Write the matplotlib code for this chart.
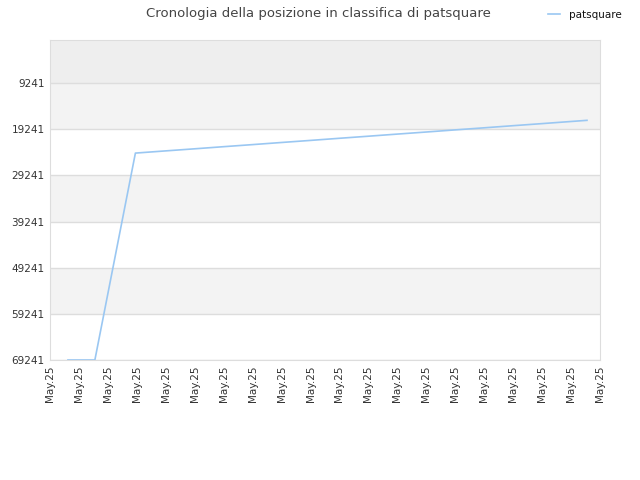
import matplotlib
matplotlib.use("Agg")
import matplotlib.pyplot as plt

# x positions in tick units (0..19), rank values
days = [0.62, 1.55, 2.95, 4.0, 5.0, 6.0, 7.0, 8.0, 9.0, 10.0, 11.0, 12.0,
        13.0, 14.0, 15.0, 16.0, 17.0, 18.0, 18.55]
ranks = [69241, 69241, 24400, 23920, 23470, 23010, 22560, 22100, 21650, 21190,
         20740, 20280, 19830, 19370, 18920, 18460, 18010, 17550, 17300]
tick_labels = ["May.25"] * 20
y_ticks = [9241, 19241, 29241, 39241, 49241, 59241, 69241]

fig = plt.figure(figsize=(6.4, 4.8), dpi=100)
ax = fig.add_axes([50 / 640, 1 - 360 / 480, 550 / 640, 320 / 480])

y_top = -110
ax.set_xlim(0, 19)
ax.set_ylim(69241, y_top)

# background bands
ax.axhspan(y_top, 9241, color="#eeeeee", zorder=0, lw=0)
for i in range(len(y_ticks) - 1):
    col = "#f3f3f3" if i % 2 == 0 else "#ffffff"
    ax.axhspan(y_ticks[i], y_ticks[i + 1], color=col, zorder=0, lw=0)
for t in y_ticks:
    ax.axhline(t, color="#dddddd", lw=1, zorder=1)

ax.plot(days, ranks, color="#9ac7f2", lw=1.2, zorder=3, label="patsquare")

ax.set_yticks(y_ticks)
ax.set_yticklabels([str(t) for t in y_ticks])
ax.set_xticks(range(20))
ax.set_xticklabels(tick_labels, rotation=90)
ax.tick_params(axis="both", labelsize=7.5, colors="#333333", length=0, pad=4)

for s in ax.spines.values():
    s.set_color("#dddddd")

fig.suptitle("Cronologia della posizione in classifica di patsquare",
             x=0.497, y=0.985, fontsize=9.5, color="#444444")
leg = ax.legend(loc="upper right", bbox_to_anchor=(1.056, 1.124),
                frameon=False, fontsize=7.5, handlelength=1.2, handletextpad=0.8)
for txt in leg.get_texts():
    txt.set_color("#111111")

fig.savefig("out.png", dpi=100)
